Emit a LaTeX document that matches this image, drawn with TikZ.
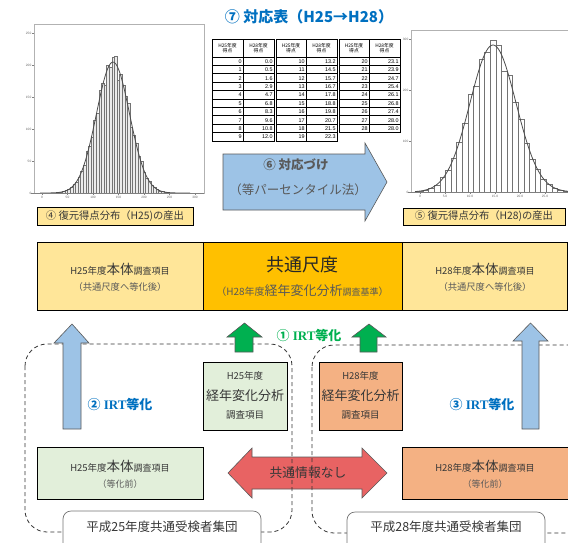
\documentclass[tikz,border=0pt]{standalone}
\usepackage{fontspec}
\setmainfont{Noto Sans CJK JP}
\newfontfamily\irtf{Liberation Serif}
\newfontfamily\numf{Liberation Sans}
\definecolor{titleblue}{RGB}{0,112,192}
\definecolor{irtgreen}{RGB}{0,176,80}
\definecolor{lyellow}{RGB}{255,230,153}
\definecolor{gold}{RGB}{255,192,0}
\definecolor{lgreen}{RGB}{226,239,218}
\definecolor{salmon}{RGB}{244,177,131}
\definecolor{lblue}{RGB}{157,195,230}
\definecolor{redarrow}{RGB}{232,99,99}
\definecolor{txtdark}{RGB}{55,55,55}
\definecolor{txtgray}{RGB}{89,89,89}
\newcommand\myfs[1]{\fontsize{#1}{#1}\selectfont}
\newcommand\mytblock[4]{%
  \node[hdr] at ({(#1+#2)/2},48) {H25年度\\得点};
  \node[hdr] at ({(#2+#3)/2},48) {H28年度\\得点};
  \draw[tbl] (#1,39) rectangle (#3,57);
  \draw[tbl] (#2,39) -- (#2,57);
  \foreach \a/\b [count=\r from 0] in {#4} {
    \draw[tbl] (#1,57+\r*8.4) rectangle (#3,57+\r*8.4+8.4);
    \draw[tbl] (#2,57+\r*8.4) -- (#2,57+\r*8.4+8.4);
    \node[num] at (#2-1.2,57+\r*8.4+4.4) {\a};
    \node[num] at (#3-1.2,57+\r*8.4+4.4) {\b};
  }%
}
\tikzset{
  hdr/.style={font=\fontsize{4.8}{5.6}\selectfont, align=center, inner sep=0pt, text=black},
  num/.style={font=\numf\fontsize{5.4}{5.4}\selectfont, anchor=east, inner sep=0pt},
  tbl/.style={line width=0.7pt, draw=black},
  frame/.style={draw=black!30, line width=0.6pt},
  bar/.style={draw=black!55, fill=black!8, line width=0.35pt},
  curve/.style={draw=black!70, line width=0.8pt},
  axlab/.style={font=\numf\fontsize{3.2}{3.2}\selectfont, text=black!60, inner sep=0.5pt},
  box/.style={draw=black, line width=0.9pt, inner sep=0pt},
  labbox/.style={draw=black, line width=0.8pt, fill=lyellow, inner sep=0pt, font=\myfs{10.3}, text=txtdark},
  blockarrow/.style={draw=black!65, line width=0.6pt},
  grpdash/.style={draw=black!80, dashed, line width=0.8pt, dash pattern=on 4pt off 3pt, rounded corners=22pt},
  grplab/.style={draw=black!55, fill=white, line width=0.7pt, rounded corners=8pt},
  t/.style={inner sep=0pt, text=txtdark},
}
\begin{document}
\begin{tikzpicture}[x=1pt,y=-1pt]
\useasboundingbox (0,0) rectangle (568,542);

% title
\node[t, text=titleblue, font=\bfseries\myfs{15}] (title) at (309,17) {⑦ 対応表（H25→H28）};

% table
\mytblock{212}{243}{274}{0/0.0,1/0.5,2/1.6,3/2.9,4/4.7,5/6.8,6/8.3,7/9.6,8/10.8,9/12.0}
\mytblock{276}{306}{337}{10/13.2,11/14.5,12/15.7,13/16.7,14/17.8,15/18.8,16/19.8,17/20.7,18/21.5,19/22.3}
\mytblock{339}{369}{400}{20/23.1,21/23.9,22/24.7,23/25.4,24/26.1,25/26.8,26/27.4,27/28.0,28/28.0}

% left histogram
\draw[frame] (34,24) rectangle (204,193);
\foreach \i in {-24,...,24}{
  \pgfmathsetmacro\h{131*exp(-((\i*2.6)^2)/(2*16.5*16.5))*(1+0.06*sin(\i*137)+0.04*cos(\i*71))}
  \pgfmathsetmacro\xa{113+(\i-0.5)*2.6}
  \draw[bar] (\xa,193) rectangle ++(2.6,-\h);
}
\draw[curve] plot[domain=40:190, samples=90] (\x,{193-131*exp(-((\x-113)^2)/(2*16.5*16.5))});
\draw[draw=black!50, line width=0.5pt] (31,193) -- (204,193);
\foreach \k/\l in {0/0,1/50,2/100,3/150,4/200,5/250}{
  \draw[black!50, line width=0.4pt] (32,193-\k*32) -- (34,193-\k*32);
  \node[axlab, anchor=east] at (32,193-\k*32) {\l};
}
\foreach \k/\l in {0/0,1/50,2/100,3/150,4/200,5/250,6/300}{
  \draw[black!50, line width=0.4pt] (42+\k*25.5,193) -- (42+\k*25.5,195);
  \node[axlab, anchor=north] at (42+\k*25.5,196) {\l};
}
\node[labbox, minimum width=156pt, minimum height=18pt] (lab4) at (115,216) {④ 復元得点分布（H25)の産出};

% right histogram
\draw[frame] (411,30) rectangle (580,192);
\foreach \i in {-13,...,13}{
  \pgfmathsetmacro\h{147*exp(-((\i*5.6)^2)/(2*23*23))*(1+0.05*sin(\i*151)+0.03*cos(\i*83))}
  \pgfmathsetmacro\xa{493+(\i-0.5)*5.6}
  \draw[bar, fill=white] (\xa,192) rectangle ++(5.6,-\h);
}
\draw[curve] plot[domain=415:570, samples=90] (\x,{192-147*exp(-((\x-493)^2)/(2*23*23))});
\draw[draw=black!50, line width=0.5pt] (408,192) -- (570,192);
\foreach \k/\l in {0/0,1/100,2/200,3/300}{
  \draw[black!50, line width=0.4pt] (409,192-\k*51) -- (411,192-\k*51);
  \node[axlab, anchor=east] at (409,192-\k*51) {\l};
}
\foreach \k/\l in {0/0,1/5.0,2/10.0,3/15.0,4/20.0,5/25.0}{
  \draw[black!50, line width=0.4pt] (420+\k*25,192) -- (420+\k*25,194);
  \node[axlab, anchor=north] at (420+\k*25,195) {\l};
}
\node[labbox, minimum width=162pt, minimum height=17pt] (lab5) at (484,216.5) {⑤ 復元得点分布（H28)の産出};

% big blue arrow 6
\draw[blockarrow, fill=lblue] (223,154) -- (365,154) -- (365,143) -- (387,182) -- (365,221) -- (365,210) -- (223,210) -- cycle;
\node[t, text=txtgray, font=\bfseries\myfs{12.5}] (a6a) at (296,165) {⑥ 対応づけ};
\node[t, text=txtgray, font=\myfs{12.5}] (a6b) at (298,190) {（等パーセンタイル法）};

% middle bar
\node[box, fill=lyellow, minimum width=166pt, minimum height=68pt] (h25eq) at (120,276) {};
\node[box, fill=gold, minimum width=199pt, minimum height=68pt] (common) at (302.5,276) {};
\node[box, fill=lyellow, minimum width=165pt, minimum height=68pt] (h28eq) at (484.5,276) {};
\node[t, font=\myfs{9.5}] (h25eqt1) at (120,269) {H25年度{\myfs{13.5}本体}{\myfs{9}調査項目}};
\node[t, text=txtgray, font=\myfs{9.3}] (h25eqt2) at (120,287) {（共通尺度へ等化後）};
\node[t, font=\myfs{9.5}] (h28eqt1) at (485,269) {H28年度{\myfs{13.5}本体}{\myfs{9}調査項目}};
\node[t, text=txtgray, font=\myfs{9.3}] (h28eqt2) at (485,287) {（共通尺度へ等化後）};
\node[t, text=black!85, font=\myfs{18}] (commont1) at (302.5,265) {共通尺度};
\node[t, text=txtgray, font=\myfs{10}] (commont2) at (302.5,291) {（H28年度{\myfs{13}経年変化分析}{\myfs{9}調査基準}）};

% red double arrow
\draw[blockarrow, fill=redarrow] (228,473) -- (252,448) -- (252,457) -- (362,457) -- (362,448) -- (387,473) -- (362,498) -- (362,489) -- (252,489) -- (252,498) -- cycle;
\node[t, font=\myfs{12.8}] (nocommon) at (308,473) {共通情報なし};

% dashed groups
\draw[grpdash] (25,344) rectangle (292,532);
\draw[grpdash] (312,345) rectangle (590,533);

% up arrows
\draw[blockarrow, fill=lblue] (63,429) -- (63,343) -- (54,343) -- (72,324) -- (89,343) -- (81,343) -- (81,429) -- cycle;
\draw[blockarrow, fill=lblue] (522,429) -- (522,341) -- (513,341) -- (530.5,323) -- (548,341) -- (539,341) -- (539,429) -- cycle;
\draw[blockarrow, fill=irtgreen] (235,352) -- (235,337) -- (227,337) -- (244.5,323) -- (262,337) -- (253,337) -- (253,352) -- cycle;
\draw[blockarrow, fill=irtgreen] (360,352) -- (360,337) -- (352,337) -- (369,324) -- (386,337) -- (377,337) -- (377,352) -- cycle;

% IRT labels
\node[t, text=irtgreen, font=\bfseries\myfs{13}] (irt1) at (309,335) {①{\irtf\bfseries\ IRT}等化};
\node[t, text=titleblue, font=\bfseries\myfs{13}] (irt2) at (120,404) {②{\irtf\bfseries\ IRT}等化};
\node[t, text=titleblue, font=\bfseries\myfs{13}] (irt3) at (482,404) {③{\irtf\bfseries\ IRT}等化};

% anchor item boxes
\node[box, fill=lgreen, minimum width=84pt, minimum height=68pt] (h25anc) at (245,396) {};
\node[t, font=\myfs{9.5}] at (245,376) {H25年度};
\node[t, font=\myfs{13}] at (245,396) {経年変化分析};
\node[t, font=\myfs{9.5}] at (245,415) {調査項目};
\node[box, fill=salmon, minimum width=83pt, minimum height=68pt] (h28anc) at (360.5,396) {};
\node[t, font=\myfs{9.5}] at (360.5,376) {H28年度};
\node[t, font=\myfs{13}] at (360.5,396) {経年変化分析};
\node[t, font=\myfs{9.5}] at (360.5,415) {調査項目};

% main item boxes before equating
\node[box, fill=lgreen, minimum width=166pt, minimum height=52pt] (h25main) at (120,473) {};
\node[t, font=\myfs{9.5}] at (120,466) {H25年度{\myfs{13.5}本体}{\myfs{9}調査項目}};
\node[t, text=txtgray, font=\myfs{9}] at (120,484) {（等化前）};
\node[box, fill=salmon, minimum width=166pt, minimum height=52pt] (h28main) at (485,473) {};
\node[t, font=\myfs{9.5}] at (485,466) {H28年度{\myfs{13.5}本体}{\myfs{9}調査項目}};
\node[t, text=txtgray, font=\myfs{9}] at (485,484) {（等化前）};

% group labels
\draw[grplab] (63,511) rectangle (261,555);
\node[t, font=\myfs{12.5}] (grp25) at (162,527) {平成25年度共通受検者集団};
\draw[grplab] (347,512) rectangle (545,555);
\node[t, font=\myfs{12.5}] (grp28) at (446,527) {平成28年度共通受検者集団};
\end{tikzpicture}
\end{document}
